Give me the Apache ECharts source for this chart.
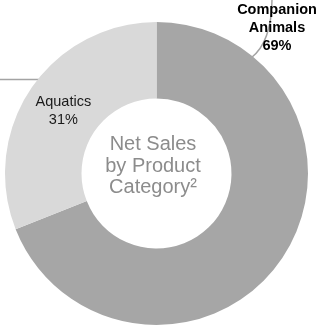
<!DOCTYPE html>
<html>
<head>
<meta charset="utf-8">
<script src="https://cdn.jsdelivr.net/npm/echarts@6/dist/echarts.min.js"></script>
<style>
  html, body { margin: 0; padding: 0; background: #fff; }
  #chart { width: 333px; height: 333px; }
</style>
</head>
<body>
<div id="chart"></div>
<script>
// data
var categories = ['Companion\nAnimals', 'Aquatics'];
var shares = [69, 31];
var sliceColors = ['#a6a6a6', '#d9d9d9'];
var centerText = 'Net Sales\nby Product\nCategory²';

var chart = echarts.init(document.getElementById('chart'), null, { renderer: 'canvas' });

var pieData = categories.map(function (name, i) {
  var d = { name: name, value: shares[i], itemStyle: { color: sliceColors[i] } };
  if (i === 0) d.label = { fontWeight: 'bold', color: '#000' };
  return d;
});

chart.setOption({
  animation: false,
  backgroundColor: '#ffffff',
  textStyle: { fontFamily: 'Liberation Sans, Arial, sans-serif' },
  graphic: [
    // stray leader lines from the original slide
    {
      type: 'polyline', z: 0,
      shape: { points: [[0, 79.5], [40, 79.5]] },
      style: { stroke: '#a3a3a3', lineWidth: 1.5, fill: null }
    },
    {
      type: 'bezierCurve', z: 0,
      shape: { x1: 272, y1: -2, cpx1: 272, cpy1: 30, cpx2: 264, cpy2: 48, x2: 251, y2: 58 },
      style: { stroke: '#a3a3a3', lineWidth: 1.5, fill: null }
    },
    {
      type: 'text', z: 10,
      x: 153, y: 134,
      style: {
        text: centerText,
        fill: '#8c8c8c',
        font: '20px "Liberation Sans", Arial, sans-serif',
        lineHeight: 21.5,
        align: 'center',
        verticalAlign: 'top'
      }
    }
  ],
  series: [{
    type: 'pie',
    center: [156.5, 173.5],
    radius: [75, 151.5],
    startAngle: 90,
    clockwise: true,
    silent: true,
    data: pieData,
    label: {
      show: true,
      position: 'inside',
      formatter: '{b}\n{d}%',
      color: '#1a1a1a',
      fontSize: 14.5,
      lineHeight: 18,
      fontFamily: 'Liberation Sans, Arial, sans-serif'
    },
    labelLine: { show: false },
    labelLayout: function (params) {
      if (params.dataIndex === 0) {
        return { x: 277, y: 28, align: 'center', verticalAlign: 'middle' };
      }
      return { dx: 3, dy: 3 };
    }
  }]
});
</script>
</body>
</html>
